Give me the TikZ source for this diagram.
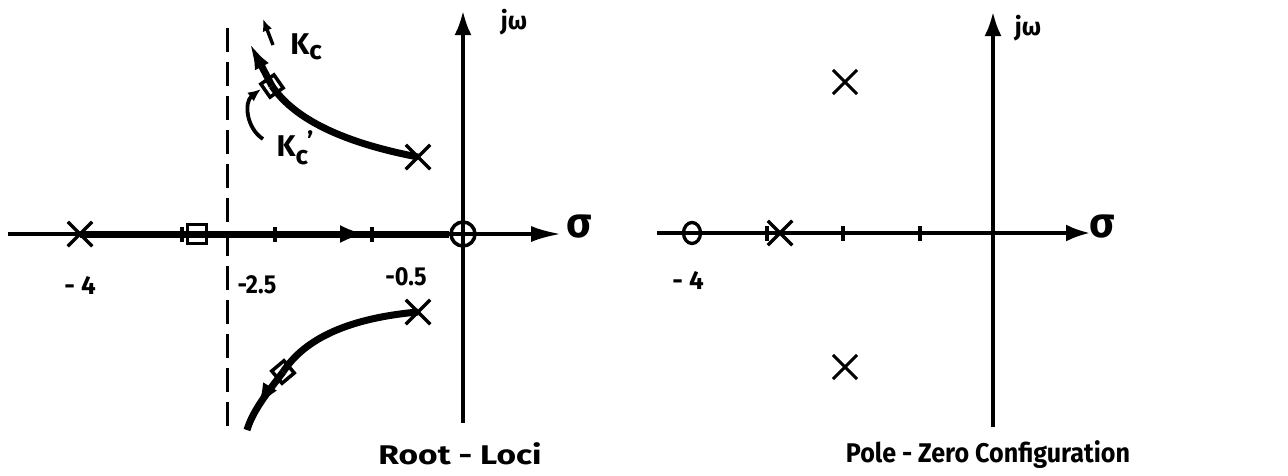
\documentclass[tikz,border=0pt]{standalone}
\usepackage{fontspec}
\setmainfont{Fira Sans}
\usetikzlibrary{arrows.meta,shapes.misc,shapes.geometric,decorations.markings}
\begin{document}
\begin{tikzpicture}[x=1pt,y=-1pt,
  axis/.style={line width=3.5pt},
  locus/.style={line width=7pt},
  axarrow/.style={-{Latex[length=24pt,width=17pt]}},
  pole/.style={cross out,draw,line width=3.5pt,minimum size=21pt,inner sep=0pt},
  zero/.style={circle,draw,line width=3.5pt,minimum size=24pt,inner sep=0pt},
  zeroR/.style={ellipse,draw,line width=3.3pt,minimum width=17pt,minimum height=21pt,inner sep=0pt},
  sq/.style={rectangle,draw,line width=3.5pt,minimum size=16pt,inner sep=0pt},
  tickm/.style={rectangle,fill,minimum width=3.5pt,minimum height=15pt,inner sep=0pt},
  lbl/.style={font=\fontsize{26}{28}\bfseries,inner sep=0pt},
  big/.style={font=\fontsize{27}{30}\bfseries,inner sep=0pt},
  axlbl/.style={font=\fontsize{25}{27}\bfseries,inner sep=0pt},
  sig/.style={font=\fontsize{42}{44}\bfseries,inner sep=0pt},
  klbl/.style={font=\fontsize{30}{32}\bfseries,inner sep=0pt},
  dashv/.style={line width=3pt,dash pattern=on 24pt off 10pt}
]
\useasboundingbox (0,0) rectangle (1288,475);

% ================= Left: Root-Loci =================
\coordinate (Lstart) at (8,234);
\coordinate (Ltip) at (561,234);
\coordinate (Lvb) at (463,423);
\coordinate (Lvt) at (463,11);
\draw[axis,-{Latex[length=30pt,width=16pt]}] (Lstart) -- (Ltip);
\draw[axis,axarrow] (Lvb) -- (Lvt);
\node[sig] (sigL) at (579,227) {σ};
\node[axlbl] (jwL) at (514,22) {jω};

% poles, zero, squares
\node[pole] (p4) at (80,234) {};
\node[pole] (pu) at (418,157) {};
\node[pole] (pl) at (418,312) {};
\node[zero] (z0) at (463,234) {};
\node[tickm] (t1) at (182,234) {};
\node[tickm] (t2) at (275,234) {};
\node[tickm] (t3) at (372,234) {};

% thick real-axis locus
\draw[locus] (p4.center) -- (z0.west);
\coordinate (ah1) at (330,234);
\coordinate (ah2) at (366,234);
\draw[locus,-{Latex[length=26pt,width=18pt]}] (ah1) -- (ah2);
\node[sq,minimum size=19pt] (s1) at (197,234) {};

% dashed asymptote
\coordinate (d1) at (227,28);
\coordinate (d2) at (227,433);
\draw[dashv] (d1) -- (d2);

% upper locus
\node[sq,rotate=35] (su) at (272,86) {};
\coordinate (ku) at (248,40);
\draw[locus] (pu.center) .. controls (345,143) and (295,120) .. (su.center);
\draw[locus,-{Latex[length=30pt,width=15pt]}] (su.center) -- (ku);

% lower locus
\node[sq,rotate=40] (sl) at (283,372) {};
\coordinate (kl) at (247,430);
\draw[locus] (pl.center) .. controls (350,318) and (305,338) .. (sl.center);
\draw[locus,postaction={decorate},
  decoration={markings,mark=at position 0.66 with {\arrow{Latex[length=26pt,width=16pt]}}}]
  (sl.center) .. controls (268,392) and (253,410) .. (kl);

% Kc annotations
\coordinate (kca) at (273,45);
\coordinate (kcb) at (263,19);
\draw[line width=3.4pt,-{Latex[length=12pt,width=10pt]}] (kca) -- (kcb);
\node[klbl] (Kc) at (306,47) {K\raisebox{-5pt}{\fontsize{26}{26}\selectfont c}};
\coordinate (kps) at (263,139);
\coordinate (kpe) at (261,89);
\draw[line width=3.8pt,-{Latex[length=13pt,width=11pt]}] (kps) .. controls (246,128) and (244,102) .. (kpe);
\node[klbl] (Kcp) at (295,148) {K\raisebox{-8pt}{\fontsize{26}{26}\selectfont c}\kern-1pt\raisebox{6pt}{\fontsize{26}{26}\selectfont '}};

% tick labels
\node[lbl] (lm4) at (80,285) {- 4};
\node[lbl] (lm25) at (257,285) {\scalebox{0.9}[1]{-2.5}};
\node[lbl] (lm05) at (406,277) {\scalebox{0.9}[1]{-0.5}};
\node[big] (rl) at (460,454) {\scalebox{1.24}[1]{Root - Loci}};

% ================= Right: Pole-Zero Configuration =================
\coordinate (Rstart) at (657,233);
\coordinate (Rtip) at (1090,233);
\coordinate (Rvb) at (993,427);
\coordinate (Rvt) at (993,12);
\draw[axis,axarrow] (Rstart) -- (Rtip);
\draw[axis,axarrow] (Rvb) -- (Rvt);
\node[sig] (sigR) at (1102,227) {σ};
\node[axlbl] (jwR) at (1028,28) {jω};

\node[zeroR] (zr) at (692,233) {};
\node[tickm] (rt1) at (767,233) {};
\node[pole] (pr) at (780,233) {};
\node[tickm] (rt2) at (843,233) {};
\node[tickm] (rt3) at (920,233) {};
\node[pole,line width=3.1pt] (pru) at (845,82) {};
\node[pole,line width=3.1pt] (prl) at (845,367) {};

\node[lbl] (rm4) at (688,280) {- 4};
\node[big] (pz) at (988,455) {\scalebox{0.93}[1]{Pole - Zero Configuration}};
\end{tikzpicture}
\end{document}
